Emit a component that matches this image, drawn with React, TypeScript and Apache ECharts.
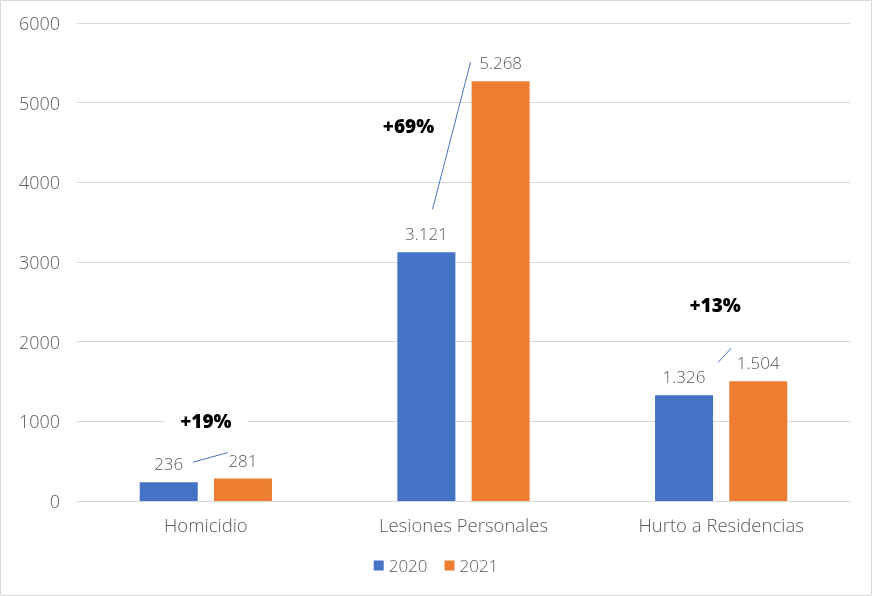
import React, { useEffect, useRef } from "react";
import * as echarts from "echarts";

const categories = ["Homicidio", "Lesiones Personales", "Hurto a Residencias"];
const seriesNames = ["2020", "2021"];
const values2020 = [236, 3121, 1326];
const values2021 = [281, 5268, 1504];
const yTicks = [0, 1000, 2000, 3000, 4000, 5000, 6000];
// value level (y) at which each percentage annotation sits
const annotationLevels = [1000, 4712, 2462];

const FONT = "Open Sans";
const GRAY = "#595959";
const BLUE = "#4472c4";
const ORANGE = "#ed7d31";

const fmt = (n: number) => String(n).replace(/\B(?=(\d{3})+(?!\d))/g, ".");

export default function App() {
  const ref = useRef<HTMLDivElement>(null);
  useEffect(() => {
    if (!ref.current) return;
    const chart = echarts.init(ref.current, undefined, { renderer: "svg" });
    const label = {
      show: true,
      position: "top",
      distance: 10,
      color: GRAY,
      fontFamily: FONT,
      fontWeight: 300,
      fontSize: 17,
      formatter: (p: any) => fmt(p.value),
    };
    chart.setOption({
      animation: false,
      grid: { left: 77, right: 22, top: 23, bottom: 95 },
      legend: {
        data: seriesNames,
        top: 552,
        left: "center",
        itemWidth: 10,
        itemHeight: 10,
        itemGap: 17,
        icon: "rect",
        textStyle: { color: GRAY, fontFamily: FONT, fontWeight: 300, fontSize: 17 },
      },
      xAxis: {
        type: "category",
        data: categories,
        axisLine: { lineStyle: { color: "#d9d9d9" } },
        axisTick: { show: false },
        axisLabel: { color: GRAY, fontFamily: FONT, fontWeight: 300, fontSize: 18.5, margin: 14 },
      },
      yAxis: {
        type: "value",
        min: yTicks[0],
        max: yTicks[yTicks.length - 1],
        interval: 1000,
        axisLabel: {
          color: GRAY,
          fontFamily: FONT,
          fontWeight: 300,
          fontSize: 18,
          margin: 17,
          formatter: (v: number) => String(v),
        },
        splitLine: { lineStyle: { color: "#d9d9d9", width: 1 } },
      },
      series: [
        {
          name: seriesNames[0],
          type: "bar",
          data: values2020,
          barWidth: 58,
          barGap: "28%",
          itemStyle: { color: BLUE },
          label,
        },
        {
          name: seriesNames[1],
          type: "bar",
          data: values2021,
          barWidth: 58,
          itemStyle: { color: ORANGE },
          label,
        },
      ],
    });

    const px = (i: number, v: number) =>
      chart.convertToPixel({ xAxisIndex: 0, yAxisIndex: 0 }, [i, v]) as number[];
    const half = 37;
    const startOff = [
      [24, -20],
      [6, -43],
      [34, -33],
    ];
    const endOff = [
      [-15, -26],
      [-30, -19],
      [-27, -33],
    ];
    const textDx = [0, -55, -6];
    const graphics: any[] = [
      {
        type: "rect",
        shape: { x: 0.5, y: 0.5, width: 871, height: 595 },
        style: { fill: "none", stroke: "#d9d9d9", lineWidth: 1 },
        silent: true,
      },
    ];
    categories.forEach((_, i) => {
      const p1 = px(i, values2020[i]);
      const p2 = px(i, values2021[i]);
      const x1 = p1[0] - half + startOff[i][0];
      const y1 = p1[1] + startOff[i][1];
      const x2 = p2[0] + half + endOff[i][0];
      const y2 = p2[1] + endOff[i][1];
      const a = px(i, annotationLevels[i]);
      const pct = Math.round((values2021[i] / values2020[i] - 1) * 100);
      graphics.push({
        type: "text",
        x: a[0] + textDx[i],
        y: a[1],
        z: 20,
        style: {
          text: "+" + pct + "%",
          fontFamily: FONT,
          fontWeight: 800,
          fontSize: 19,
          fill: "#000",
          align: "center",
          verticalAlign: "middle",
          backgroundColor: "#fff",
          padding: [4, 16],
        },
      });
      graphics.push({
        type: "line",
        shape: { x1, y1, x2, y2 },
        style: { stroke: BLUE, lineWidth: 1 },
        z: 30,
      });
    });
    chart.setOption({ graphic: graphics });
    return () => chart.dispose();
  }, []);
  return (
    <div
      ref={ref}
      style={{ position: "fixed", left: 0, top: 0, width: 872, height: 596 }}
    />
  );
}
